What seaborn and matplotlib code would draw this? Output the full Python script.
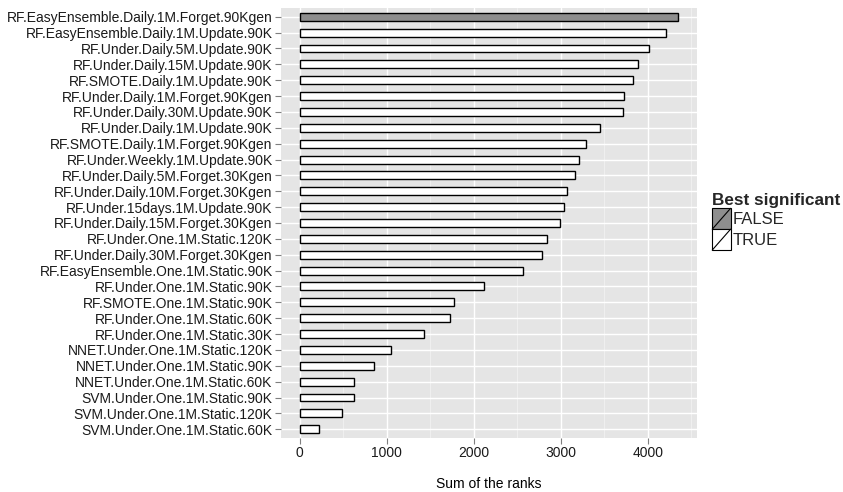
import matplotlib
matplotlib.use("Agg")
import matplotlib.pyplot as plt
import seaborn as sns
import pandas as pd
from matplotlib.patches import Rectangle
from matplotlib.lines import Line2D
from matplotlib.legend_handler import HandlerBase
from matplotlib.ticker import MultipleLocator

methods = [
    "RF.EasyEnsemble.Daily.1M.Forget.90Kgen",
    "RF.EasyEnsemble.Daily.1M.Update.90K",
    "RF.Under.Daily.5M.Update.90K",
    "RF.Under.Daily.15M.Update.90K",
    "RF.SMOTE.Daily.1M.Update.90K",
    "RF.Under.Daily.1M.Forget.90Kgen",
    "RF.Under.Daily.30M.Update.90K",
    "RF.Under.Daily.1M.Update.90K",
    "RF.SMOTE.Daily.1M.Forget.90Kgen",
    "RF.Under.Weekly.1M.Update.90K",
    "RF.Under.Daily.5M.Forget.30Kgen",
    "RF.Under.Daily.10M.Forget.30Kgen",
    "RF.Under.15days.1M.Update.90K",
    "RF.Under.Daily.15M.Forget.30Kgen",
    "RF.Under.One.1M.Static.120K",
    "RF.Under.Daily.30M.Forget.30Kgen",
    "RF.EasyEnsemble.One.1M.Static.90K",
    "RF.Under.One.1M.Static.90K",
    "RF.SMOTE.One.1M.Static.90K",
    "RF.Under.One.1M.Static.60K",
    "RF.Under.One.1M.Static.30K",
    "NNET.Under.One.1M.Static.120K",
    "NNET.Under.One.1M.Static.90K",
    "NNET.Under.One.1M.Static.60K",
    "SVM.Under.One.1M.Static.90K",
    "SVM.Under.One.1M.Static.120K",
    "SVM.Under.One.1M.Static.60K",
]
rank_sums = [4345, 4207, 4020, 3890, 3836, 3724, 3713, 3453, 3292, 3207,
             3166, 3077, 3043, 2993, 2839, 2782, 2568, 2115, 1778, 1729,
             1430, 1051, 851, 621, 621, 487, 226]
best_significant = ["FALSE"] + ["TRUE"] * (len(methods) - 1)
x_ticks = [0, 1000, 2000, 3000, 4000]

df = pd.DataFrame({"method": methods, "ranks": rank_sums, "best": best_significant})

sns.set_theme(style="white")
plt.rcParams["font.family"] = ["Liberation Sans", "DejaVu Sans"]

fill_colors = {"FALSE": "#8E8E8E", "TRUE": "#FFFFFF"}

fig = plt.figure(figsize=(8.43, 4.92), dpi=100)
ax = fig.add_axes([0.3333, 0.1098, 0.4935, 0.8739])
ax.set_facecolor("#E5E5E5")

sns.barplot(data=df, x="ranks", y="method", hue="best", hue_order=["FALSE", "TRUE"],
            palette=fill_colors, dodge=False, width=0.5, orient="h",
            edgecolor="black", linewidth=1.0, legend=False, ax=ax, zorder=3)

n = len(methods)
ax.set_ylim(n - 1 + 0.55, -0.55)
ax.set_xlim(-217, 4567)
ax.set_xticks(x_ticks)
ax.set_xticklabels([str(t) for t in x_ticks])
ax.xaxis.set_minor_locator(MultipleLocator(500))

ax.grid(which="major", axis="both", color="white", linewidth=1.0, zorder=0)
ax.grid(which="minor", axis="x", color="#F2F2F2", linewidth=0.6, zorder=0)
ax.set_axisbelow(True)
for s in ax.spines.values():
    s.set_visible(False)

ax.tick_params(axis="both", which="major", length=4, width=0.8, color="#7F7F7F",
               labelsize=10, labelcolor="#1A1A1A", pad=2, left=True, bottom=True)
ax.tick_params(axis="x", which="minor", length=0)
ax.set_ylabel("")
ax.set_xlabel("Sum of the ranks", fontsize=10, color="black", labelpad=12)


class SlashKey(HandlerBase):
    def create_artists(self, legend, orig_handle, xdescent, ydescent, width, height, fontsize, trans):
        r = Rectangle((-xdescent, -ydescent), width, height,
                      facecolor=orig_handle.get_facecolor(), edgecolor="black",
                      linewidth=0.8, transform=trans)
        ln = Line2D([-xdescent, -xdescent + width], [-ydescent, -ydescent + height],
                    color="black", linewidth=0.8, transform=trans)
        return [r, ln]


handles = [Rectangle((0, 0), 1, 1, facecolor=fill_colors[k]) for k in ["FALSE", "TRUE"]]
leg = fig.legend(handles, ["FALSE", "TRUE"], title="Best significant",
                 handler_map={Rectangle: SlashKey()},
                 loc="upper left", bbox_to_anchor=(0.835, 0.624),
                 frameon=False, fontsize=12, title_fontsize=12.3,
                 handlelength=1.1, handleheight=1.55, handletextpad=0.1,
                 labelspacing=0.0, borderpad=0.0, alignment="left")
leg.get_title().set_fontweight("bold")

fig.savefig("out.png", dpi=100)
